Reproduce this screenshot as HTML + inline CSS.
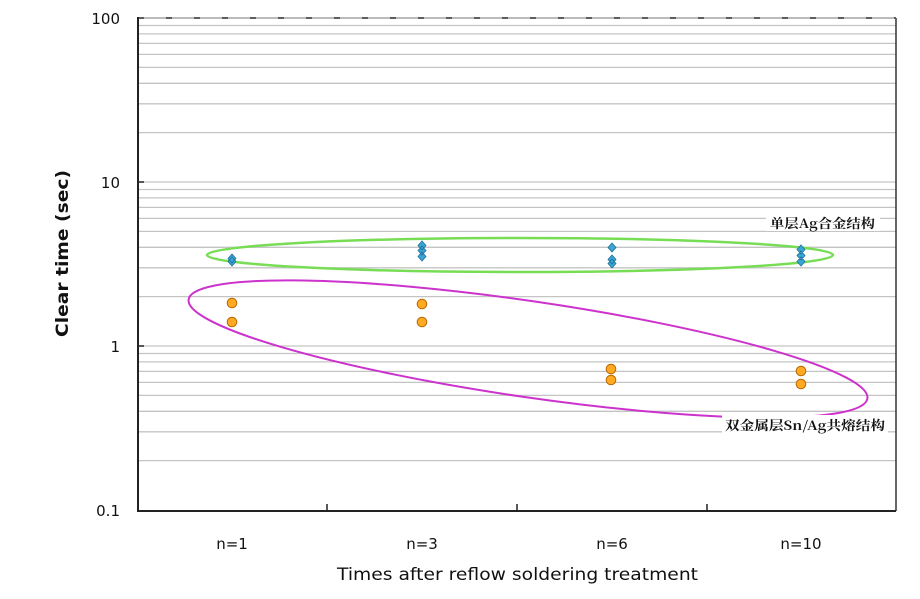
<!DOCTYPE html>
<html><head><meta charset="utf-8"><style>html,body{margin:0;padding:0;background:#fff}svg{display:block}</style></head>
<body>
<svg width="920" height="599" viewBox="0 0 920 599" xmlns="http://www.w3.org/2000/svg" font-family="'DejaVu Sans','Liberation Sans',sans-serif">
<rect width="920" height="599" fill="#fff"/>
<g stroke="#c4c4c4" stroke-width="1.3">
<path d="M138 460.6H896M138 431.8H896M138 411.3H896M138 395.4H896M138 382.4H896M138 371.4H896M138 361.9H896M138 353.5H896"/>
<path d="M138 346H896M138 296.6H896M138 267.8H896M138 247.3H896M138 231.4H896M138 218.4H896M138 207.4H896M138 197.9H896M138 189.5H896"/>
<path d="M138 182H896M138 132.6H896M138 103.8H896M138 83.3H896M138 67.4H896M138 54.4H896M138 43.4H896M138 33.9H896M138 25.5H896"/>
</g>
<path d="M896 18V511" stroke="#333" stroke-width="1.5"/>
<path d="M138 18H896" stroke="#444" stroke-width="2" stroke-dasharray="6 22"/>
<path d="M138 18H896" stroke="#777" stroke-width="1"/>
<path d="M138 17V511H896" fill="none" stroke="#222" stroke-width="2"/>
<path d="M138 346h6M138 182h6M327 511v-7M517 511v-7M707 511v-7" stroke="#222" stroke-width="1.5"/>
<g font-size="15" fill="#111" text-anchor="end">
<text x="120" y="24">100</text><text x="120" y="188">10</text><text x="120" y="352">1</text><text x="120" y="516">0.1</text>
</g>
<g font-size="15" fill="#111" text-anchor="middle">
<text x="232" y="549">n=1</text><text x="422" y="549">n=3</text><text x="612" y="549">n=6</text><text x="801" y="549">n=10</text>
</g>
<text x="337" y="580" font-size="17" fill="#111" textLength="361" lengthAdjust="spacingAndGlyphs">Times after reflow soldering treatment</text>
<text transform="translate(68 337) rotate(-90)" font-size="16.5" font-weight="bold" fill="#111" textLength="167" lengthAdjust="spacingAndGlyphs">Clear time (sec)</text>
<ellipse cx="520" cy="255" rx="313" ry="17" fill="none" stroke="#77dd55" stroke-width="2.5"/>
<ellipse cx="528" cy="349" rx="343" ry="48" transform="rotate(8.3 528 349)" fill="none" stroke="#cc33cc" stroke-width="2"/>
<g fill="#3aa6d6" stroke="#1d6f99" stroke-width="0.8">
<path d="M232 254l4 4.5-4 4.5-4-4.5zM232 257l4 4.5-4 4.5-4-4.5z"/>
<path d="M422 241l4 4.5-4 4.5-4-4.5zM422 246l4 4.5-4 4.5-4-4.5zM422 252l4 4.5-4 4.5-4-4.5z"/>
<path d="M612 243l4 4.5-4 4.5-4-4.5zM612 255l4 4.5-4 4.5-4-4.5zM612 259l4 4.5-4 4.5-4-4.5z"/>
<path d="M801 245l4 4.5-4 4.5-4-4.5zM801 251l4 4.5-4 4.5-4-4.5zM801 257l4 4.5-4 4.5-4-4.5z"/>
</g>
<g fill="#ffaa22" stroke="#b86a00" stroke-width="1">
<circle cx="232" cy="303" r="4.8"/><circle cx="232" cy="322" r="4.8"/>
<circle cx="422" cy="304" r="4.8"/><circle cx="422" cy="322" r="4.8"/>
<circle cx="611" cy="369" r="4.8"/><circle cx="611" cy="380" r="4.8"/>
<circle cx="801" cy="371" r="4.8"/><circle cx="801" cy="384" r="4.8"/>
</g>
<rect x="766" y="213" width="114" height="18" fill="#fff"/>
<text x="770" y="228" font-size="13" font-weight="bold" font-family="'Noto Serif CJK SC','Noto Sans CJK SC',serif" fill="#111" textLength="105" lengthAdjust="spacingAndGlyphs">单层Ag合金结构</text>
<rect x="722" y="415" width="166" height="18" fill="#fff"/>
<text x="725" y="430" font-size="13" font-weight="bold" font-family="'Noto Serif CJK SC','Noto Sans CJK SC',serif" fill="#111" textLength="160" lengthAdjust="spacingAndGlyphs">双金属层Sn/Ag共熔结构</text>
</svg>
</body></html>
